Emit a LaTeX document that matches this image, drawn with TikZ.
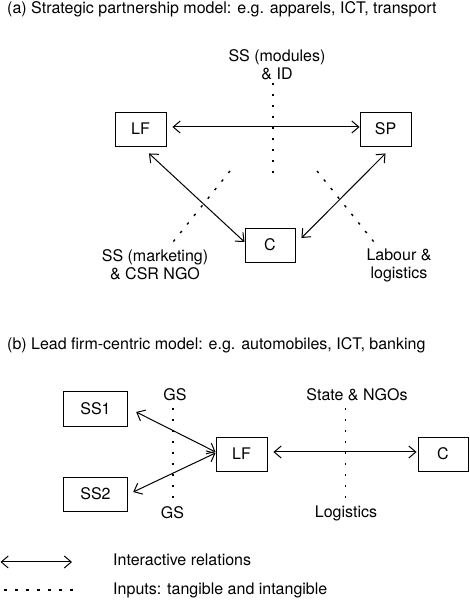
\documentclass[tikz,border=0pt]{standalone}
\usepackage{fontspec}
\setmainfont{TeX Gyre Heros}
\usetikzlibrary{arrows.meta, positioning}

\begin{document}
\begin{tikzpicture}[
    x=1pt, y=1pt,
    font=\fontsize{16}{18}\selectfont,
    boxnode/.style={rectangle, draw=black, line width=0.9pt, minimum width=51pt, minimum height=34pt, inner sep=0pt},
    labelnode/.style={align=center, inner sep=1pt},
    arrow/.style={line width=1pt, {Straight Barb[length=7pt,width=12pt]}-{Straight Barb[length=7pt,width=12pt]}},
    inputline/.style={line width=1.4pt, dash pattern=on 2.5pt off 8.5pt}
]
\useasboundingbox (0,0) rectangle (469,600);

\node[anchor=west, inner sep=0pt] (titleA) at (7,591) {(a) Strategic partnership model: e.g. apparels, ICT, transport};
\node[boxnode] (lfA) at (140.5,471) {LF};
\node[boxnode] (sp) at (385.5,471) {SP};
\node[boxnode, minimum width=50pt] (cA) at (270,355) {C};
\node[labelnode] (modules) at (277,535) {SS (modules)\\\& ID};
\node[labelnode] (marketing) at (155,335) {SS (marketing)\\\& CSR NGO};
\node[labelnode] (labour) at (399,335) {Labour \&\\logistics};

\coordinate (modTop) at (273,517);
\coordinate (modEnd) at (273,424);
\coordinate (mktA) at (230,429);
\coordinate (mktB) at (173,358);
\coordinate (labA) at (317,429);
\coordinate (labB) at (374,358);
\draw[inputline] (modTop) -- (modEnd);
\draw[inputline] (mktA) -- (mktB);
\draw[inputline] (labA) -- (labB);

\draw[arrow, shorten <=6pt] ([yshift=2pt]lfA.east) -- ([yshift=2pt]sp.west);
\draw[arrow] ([xshift=8.5pt,yshift=-7pt]lfA.south) -- ([yshift=3pt]cA.west);
\draw[arrow] ([yshift=-7pt]sp.south) -- ([xshift=6pt,yshift=7pt]cA.east);

\node[anchor=west, inner sep=0pt] (titleB) at (7,255) {(b) Lead firm-centric model: e.g. automobiles, ICT, banking};
\node[boxnode, minimum width=64.5pt, minimum height=35pt] (ss1) at (95.5,191.5) {SS1};
\node[boxnode, minimum width=64.5pt] (ss2) at (95.5,106) {SS2};
\node[boxnode] (lfB) at (241.5,146) {LF};
\node[boxnode, minimum width=50pt] (cB) at (443,146) {C};
\node[labelnode] (gsTop) at (175,205) {GS};
\node[labelnode] (gsBot) at (172.5,87) {GS};
\node[labelnode] (state) at (357,205) {State \& NGOs};
\node[labelnode] (logistics) at (346,87) {Logistics};

\coordinate (gsA) at (173,192);
\coordinate (gsB) at (173,101);
\coordinate (stA) at (345.5,192);
\coordinate (stB) at (345.5,101);
\draw[inputline] (gsA) -- (gsB);
\draw[inputline] (stA) -- (stB);

\draw[arrow] ([xshift=8pt,yshift=-3.5pt]ss1.east) -- ([yshift=2pt]lfB.west);
\draw[arrow] ([xshift=5pt,yshift=2pt]ss2.east) -- ([yshift=1pt]lfB.west);
\draw[arrow] ([xshift=6pt,yshift=2pt]lfB.east) -- ([xshift=-1pt,yshift=2pt]cB.west);

\coordinate (legA) at (0.5,38);
\coordinate (legB) at (72,38);
\coordinate (legC) at (4,10);
\coordinate (legD) at (74,10);
\draw[arrow] (legA) -- (legB);
\draw[inputline] (legC) -- (legD);
\node[anchor=west, inner sep=0pt] (legArrow) at (113,40) {Interactive relations};
\node[anchor=west, inner sep=0pt] (legInput) at (113,9.5) {Inputs: tangible and intangible};
\end{tikzpicture}
\end{document}
